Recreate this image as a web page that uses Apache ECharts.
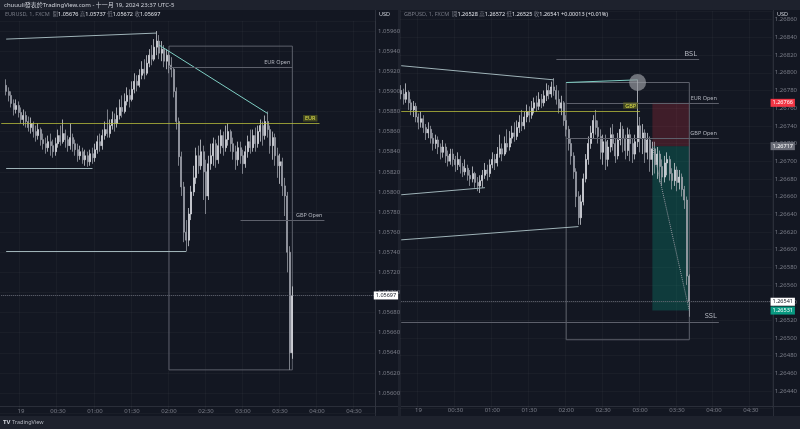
<!DOCTYPE html>
<html><head><meta charset="utf-8">
<script src="https://cdn.jsdelivr.net/npm/echarts@6/dist/echarts.min.js"></script>
<style>
html,body{margin:0;padding:0;background:#1e222d;width:800px;height:429px;overflow:hidden;}
.pane{position:absolute;background:#131722;}
.ln{position:absolute;background:#2a2e39;}
#chart{position:absolute;left:0;top:0;width:800px;height:429px;}
</style></head><body>
<div class="pane" style="left:0;top:10px;width:398px;height:406px"></div>
<div class="pane" style="left:401px;top:10px;width:399px;height:406px"></div>
<div class="ln" style="left:375px;top:10px;width:1px;height:406px"></div>
<div class="ln" style="left:0;top:406px;width:398px;height:1px"></div>
<div class="ln" style="left:773px;top:10px;width:1px;height:406px"></div>
<div class="ln" style="left:401px;top:406px;width:399px;height:1px"></div>
<div id="chart"></div>
<script>
// ---------- time ticks shown on the time axes ----------
const timeTicks = ['00:00','00:30','01:00','01:30','02:00','02:30','03:00','03:30','04:00','04:30'];

// ---------- EURUSD (left) 2-minute bars ----------
const leftStart = '23:48';
const leftFirstOpen = 1.05906;
const leftCloses = [1.05900,1.05896,1.05888,1.05882,1.05886,1.05879,1.05872,1.05876,1.05870,1.05864,
1.05868,1.05860,1.05856,1.05862,1.05852,1.05848,1.05844,1.05850,1.05846,1.05840,
1.05848,1.05856,1.05850,1.05858,1.05852,1.05846,1.05854,1.05848,1.05842,1.05836,
1.05840,1.05832,1.05836,1.05830,1.05838,1.05834,1.05842,1.05850,1.05846,1.05856,
1.05862,1.05858,1.05866,1.05872,1.05868,1.05876,1.05884,1.05880,1.05890,1.05896,
1.05892,1.05902,1.05910,1.05906,1.05916,1.05922,1.05918,1.05928,1.05936,1.05932,
1.05944,1.05950,1.05938,1.05942,1.05930,1.05936,1.05926,1.05922,1.05900,1.05870,
1.05835,1.05805,1.05760,1.05752,1.05778,1.05800,1.05814,1.05836,1.05826,1.05840,
1.05820,1.05796,1.05828,1.05836,1.05848,1.05832,1.05846,1.05856,1.05844,1.05852,
1.05860,1.05848,1.05840,1.05832,1.05844,1.05836,1.05828,1.05840,1.05850,1.05844,
1.05856,1.05848,1.05860,1.05866,1.05856,1.05870,1.05862,1.05846,1.05854,1.05836,
1.05826,1.05830,1.05806,1.05796,1.05740,1.05640,1.05697];
const leftHighs = [1.05912,1.05904,1.05900,1.05892,1.05892,1.05890,1.05884,1.05882,1.05880,1.05875,
1.05874,1.05870,1.05866,1.05868,1.05864,1.05858,1.05854,1.05856,1.05858,1.05852,
1.05854,1.05862,1.05866,1.05872,1.05862,1.05856,1.05868,1.05858,1.05852,1.05848,
1.05846,1.05844,1.05842,1.05840,1.05842,1.05844,1.05848,1.05856,1.05858,1.05862,
1.05870,1.05882,1.05872,1.05880,1.05878,1.05884,1.05892,1.05896,1.05898,1.05904,
1.05902,1.05910,1.05918,1.05916,1.05922,1.05930,1.05932,1.05936,1.05942,1.05946,
1.05952,1.05960,1.05956,1.05950,1.05946,1.05942,1.05940,1.05934,1.05924,1.05904,
1.05874,1.05840,1.05810,1.05772,1.05784,1.05806,1.05826,1.05844,1.05846,1.05852,
1.05846,1.05832,1.05836,1.05848,1.05854,1.05852,1.05856,1.05862,1.05860,1.05866,
1.05868,1.05862,1.05854,1.05846,1.05850,1.05850,1.05842,1.05846,1.05856,1.05862,
1.05862,1.05864,1.05866,1.05872,1.05870,1.05876,1.05880,1.05866,1.05860,1.05858,
1.05844,1.05838,1.05834,1.05814,1.05800,1.05746,1.05706];
const leftLows = [1.05896,1.05890,1.05884,1.05876,1.05878,1.05874,1.05868,1.05866,1.05864,1.05860,
1.05858,1.05854,1.05850,1.05852,1.05846,1.05842,1.05838,1.05840,1.05836,1.05834,
1.05836,1.05844,1.05846,1.05848,1.05844,1.05840,1.05842,1.05840,1.05836,1.05830,
1.05832,1.05828,1.05826,1.05825,1.05826,1.05828,1.05830,1.05838,1.05840,1.05842,
1.05852,1.05854,1.05854,1.05862,1.05860,1.05864,1.05872,1.05874,1.05878,1.05886,
1.05884,1.05890,1.05898,1.05900,1.05904,1.05912,1.05912,1.05916,1.05924,1.05926,
1.05930,1.05936,1.05932,1.05930,1.05924,1.05922,1.05918,1.05914,1.05894,1.05862,
1.05826,1.05796,1.05750,1.05741,1.05746,1.05772,1.05796,1.05808,1.05818,1.05822,
1.05792,1.05778,1.05792,1.05822,1.05826,1.05824,1.05828,1.05838,1.05836,1.05840,
1.05846,1.05840,1.05832,1.05822,1.05826,1.05828,1.05818,1.05824,1.05834,1.05838,
1.05840,1.05840,1.05844,1.05850,1.05846,1.05852,1.05854,1.05838,1.05832,1.05826,
1.05814,1.05808,1.05796,1.05776,1.05720,1.05623,1.05634];

// ---------- GBPUSD (right) 2-minute bars ----------
const rightStart = '23:46';
const rightFirstOpen = 1.26780;
const rightCloses = [1.26776,1.26770,1.26778,1.26766,1.26758,1.26762,1.26750,1.26744,1.26748,1.26738,
1.26732,1.26736,1.26726,1.26720,1.26724,1.26716,1.26710,1.26716,1.26706,1.26700,
1.26708,1.26702,1.26696,1.26702,1.26694,1.26688,1.26692,1.26684,1.26680,1.26686,
1.26676,1.26672,1.26678,1.26684,1.26690,1.26686,1.26696,1.26702,1.26698,1.26708,
1.26714,1.26708,1.26720,1.26716,1.26726,1.26732,1.26728,1.26738,1.26744,1.26740,
1.26750,1.26756,1.26752,1.26760,1.26766,1.26762,1.26770,1.26766,1.26774,1.26780,
1.26776,1.26784,1.26780,1.26770,1.26760,1.26766,1.26746,1.26736,1.26720,1.26706,
1.26688,1.26660,1.26636,1.26654,1.26680,1.26702,1.26720,1.26732,1.26746,1.26738,
1.26728,1.26710,1.26722,1.26702,1.26716,1.26730,1.26720,1.26706,1.26724,1.26736,
1.26726,1.26712,1.26730,1.26720,1.26708,1.26722,1.26740,1.26726,1.26732,1.26710,
1.26724,1.26702,1.26714,1.26696,1.26708,1.26694,1.26682,1.26698,1.26702,1.26686,
1.26678,1.26690,1.26676,1.26682,1.26668,1.26656,1.26570,1.26541];
const rightHighs = [1.26786,1.26782,1.26788,1.26780,1.26770,1.26768,1.26766,1.26754,1.26756,1.26752,
1.26742,1.26744,1.26740,1.26732,1.26730,1.26728,1.26720,1.26724,1.26720,1.26712,
1.26714,1.26714,1.26706,1.26710,1.26706,1.26698,1.26702,1.26696,1.26690,1.26694,
1.26688,1.26682,1.26684,1.26690,1.26698,1.26696,1.26702,1.26710,1.26708,1.26716,
1.26730,1.26720,1.26728,1.26736,1.26734,1.26740,1.26744,1.26746,1.26752,1.26758,
1.26756,1.26764,1.26762,1.26768,1.26772,1.26774,1.26778,1.26776,1.26780,1.26788,
1.26786,1.26790,1.26794,1.26786,1.26780,1.26774,1.26768,1.26752,1.26740,1.26726,
1.26710,1.26692,1.26666,1.26662,1.26686,1.26708,1.26728,1.26740,1.26752,1.26758,
1.26746,1.26736,1.26730,1.26730,1.26724,1.26738,1.26742,1.26726,1.26732,1.26744,
1.26740,1.26730,1.26738,1.26736,1.26726,1.26730,1.26792,1.26750,1.26742,1.26736,
1.26732,1.26728,1.26722,1.26722,1.26716,1.26712,1.26702,1.26706,1.26710,1.26706,
1.26692,1.26698,1.26694,1.26690,1.26686,1.26672,1.26660,1.26572];
const rightLows = [1.26770,1.26764,1.26766,1.26758,1.26752,1.26750,1.26744,1.26736,1.26738,1.26732,
1.26724,1.26726,1.26720,1.26712,1.26714,1.26708,1.26702,1.26704,1.26698,1.26694,
1.26696,1.26694,1.26688,1.26690,1.26686,1.26682,1.26684,1.26678,1.26672,1.26676,
1.26670,1.26666,1.26664,1.26670,1.26680,1.26678,1.26682,1.26692,1.26690,1.26694,
1.26704,1.26700,1.26706,1.26710,1.26712,1.26720,1.26722,1.26724,1.26732,1.26734,
1.26736,1.26744,1.26744,1.26748,1.26754,1.26756,1.26758,1.26760,1.26762,1.26768,
1.26770,1.26772,1.26774,1.26764,1.26754,1.26752,1.26740,1.26728,1.26712,1.26696,
1.26680,1.26648,1.26628,1.26628,1.26650,1.26676,1.26696,1.26714,1.26726,1.26730,
1.26720,1.26702,1.26696,1.26690,1.26694,1.26710,1.26712,1.26698,1.26702,1.26718,
1.26710,1.26702,1.26706,1.26700,1.26698,1.26702,1.26716,1.26710,1.26708,1.26698,
1.26702,1.26688,1.26684,1.26686,1.26680,1.26676,1.26672,1.26676,1.26684,1.26678,
1.26668,1.26672,1.26666,1.26668,1.26660,1.26646,1.26560,1.26524];

// ---------- helpers ----------
function makeTimes(startMin, count) {
  const out = [];
  for (let i = 0; i < count; i++) {
    const m = ((startMin + 2 * i) % 1440 + 1440) % 1440;
    out.push(String(Math.floor(m / 60)).padStart(2, '0') + ':' + String(m % 60).padStart(2, '0'));
  }
  return out;
}
const leftCats = makeTimes(-16, 152);
const rightCats = makeTimes(-14, 151);

function buildBars(cats, start, firstOpen, closes, highs, lows) {
  const s = cats.indexOf(start);
  return closes.map((c, k) => [cats[s + k], k === 0 ? firstOpen : closes[k - 1], c, lows[k], highs[k]]);
}
const leftBars = buildBars(leftCats, leftStart, leftFirstOpen, leftCloses, leftHighs, leftLows);
const rightBars = buildBars(rightCats, rightStart, rightFirstOpen, rightCloses, rightHighs, rightLows);

const FONT = '"Noto Sans", "Noto Sans CJK TC", sans-serif';
const GRAY = '#5d606b';
const TXT = '#b2b5be';
const TEAL = '#7fcfc4';
const PALE = '#9fb3b8';
const YEL_LINE = 'rgba(190,195,60,0.75)';
const YEL_TXT = '#dfe04e';

function seg(t1, v1, t2, v2, color, extra) {
  const a = Object.assign({ coord: [t1, v1], lineStyle: { color: color, width: 1, type: 'solid' }, label: { show: false } }, extra || {});
  return [a, { coord: [t2, v2] }];
}
function lbl(text, color, size, bg) {
  const o = { show: true, formatter: text, position: 'insideEndTop', color: color, fontSize: size || 5.5, distance: 2, fontFamily: FONT };
  if (bg) { o.backgroundColor = bg; o.padding = [1, 2, 0, 2]; }
  return o;
}
function priceTag(cats, v, text, bg, fg, lineColor) {
  return [{
    coord: [cats[0], v],
    lineStyle: { color: lineColor || 'rgba(0,0,0,0)', type: 'dotted', width: 1 },
    label: { show: true, position: 'end', formatter: text, backgroundColor: bg, color: fg, fontSize: 5.5, padding: [1.5, 2, 1, 2], distance: 0, fontFamily: FONT }
  }, { coord: [cats[cats.length - 1], v] }];
}

const catInterval = (idx, val) => timeTicks.includes(val);

function xAxisCfg(gi, cats, offset) {
  return {
    type: 'category', gridIndex: gi, data: cats, boundaryGap: true, offset: offset,
    axisLine: { show: false }, axisTick: { show: false },
    axisLabel: { interval: catInterval, formatter: v => v === '00:00' ? '19' : v, color: '#787b86', fontSize: 6, margin: 3, fontFamily: FONT },
    splitLine: { show: true, interval: catInterval, lineStyle: { color: 'rgba(255,255,255,0.03)' } }
  };
}
function yAxisCfg(gi, min, max) {
  return {
    type: 'value', gridIndex: gi, position: 'right', min: min, max: max, interval: 0.0002,
    axisLine: { show: false }, axisTick: { show: false },
    axisLabel: { formatter: v => v.toFixed(5), color: '#787b86', fontSize: 6, margin: 3, showMinLabel: false, showMaxLabel: false, fontFamily: FONT },
    splitLine: { lineStyle: { color: 'rgba(255,255,255,0.03)' } }
  };
}

const candleStyle = { color: '#e2e4ea', color0: '#8d909a', borderColor: '#e2e4ea', borderColor0: '#a9acb5', borderWidth: 0.7 };

const option = {
  animation: false,
  backgroundColor: 'transparent',
  textStyle: { fontFamily: FONT },
  grid: [
    { left: 0, top: 21.0, width: 375, height: 392.1 },
    { left: 400, top: 10.9, width: 373, height: 397.8 }
  ],
  xAxis: [xAxisCfg(0, leftCats, -8), xAxisCfg(1, rightCats, -4)],
  yAxis: [yAxisCfg(0, 1.0558, 1.0597), yAxisCfg(1, 1.2642, 1.2687)],
  series: [
    {
      type: 'candlestick', xAxisIndex: 0, yAxisIndex: 0, data: leftBars, clip: false,
      encode: { x: 0, y: [1, 2, 3, 4] }, barWidth: 1.5, itemStyle: candleStyle,
      markArea: {
        silent: true,
        data: [
          [{ coord: ['02:00', 1.05945], itemStyle: { color: 'rgba(0,0,0,0)', borderColor: GRAY, borderWidth: 1 } }, { coord: ['03:40', 1.05623] }]
        ]
      },
      markLine: {
        silent: true, symbol: ['none', 'none'], animation: false,
        data: [
          seg('23:48', 1.05952, '01:50', 1.05958, PALE),
          seg('23:48', 1.05824, '00:58', 1.05824, PALE),
          seg('23:48', 1.05741, '02:14', 1.05741, PALE),
          seg('01:52', 1.05946, '03:20', 1.05878, TEAL),
          seg('02:00', 1.05924, '03:40', 1.05924, GRAY, { label: lbl('EUR Open', TXT) }),
          seg('23:44', 1.05868, '04:02', 1.05868, YEL_LINE, { label: lbl('EUR', YEL_TXT, 5.5, 'rgba(110,115,30,0.55)') }),
          seg('02:58', 1.05772, '04:06', 1.05772, GRAY, { label: lbl('GBP Open', TXT) }),
          priceTag(leftCats, 1.05697, '1.05697', '#ffffff', '#131722', '#6a6d78')
        ]
      }
    },
    {
      type: 'candlestick', xAxisIndex: 1, yAxisIndex: 1, data: rightBars, clip: false,
      encode: { x: 0, y: [1, 2, 3, 4] }, barWidth: 1.5, itemStyle: candleStyle,
      markArea: {
        silent: true,
        data: [
          [{ coord: ['03:10', 1.26766], itemStyle: { color: 'rgba(242,54,69,0.2)' } }, { coord: ['03:40', 1.26717] }],
          [{ coord: ['03:10', 1.26717], itemStyle: { color: 'rgba(8,153,129,0.28)' } }, { coord: ['03:40', 1.26531] }],
          [{ coord: ['02:00', 1.26789], itemStyle: { color: 'rgba(0,0,0,0)', borderColor: GRAY, borderWidth: 1 } }, { coord: ['03:40', 1.26498] }]
        ]
      },
      markPoint: {
        silent: true,
        data: [{ coord: ['02:58', 1.26789], symbol: 'circle', symbolSize: 17, itemStyle: { color: 'rgba(150,152,158,0.7)' }, label: { show: false } }]
      },
      markLine: {
        silent: true, symbol: ['none', 'none'], animation: false,
        data: [
          seg('23:46', 1.26808, '01:50', 1.26792, PALE),
          seg('23:46', 1.26662, '00:54', 1.26670, PALE),
          seg('23:46', 1.26611, '02:10', 1.26626, PALE),
          seg('02:00', 1.26789, '02:58', 1.26792, TEAL),
          seg('01:52', 1.26815, '03:48', 1.26815, GRAY, { label: lbl('BSL', TXT, 7.5) }),
          seg('23:46', 1.26518, '04:04', 1.26518, GRAY, { label: lbl('SSL', TXT, 7.5) }),
          seg('23:46', 1.26757, '03:00', 1.26757, YEL_LINE, { label: lbl('GBP', YEL_TXT, 5.5, 'rgba(110,115,30,0.55)') }),
          seg('02:00', 1.26766, '04:04', 1.26766, GRAY, { label: lbl('EUR Open', TXT) }),
          seg('02:00', 1.26726, '04:04', 1.26726, GRAY, { label: lbl('GBP Open', TXT) }),
          seg('03:10', 1.26717, '03:40', 1.26531, '#9598a1', { lineStyle: { color: '#9598a1', width: 1, type: 'dotted' } }),
          priceTag(rightCats, 1.26766, '1.26766', '#f23645', '#ffffff'),
          priceTag(rightCats, 1.26717, '1.26717', '#6a6d78', '#ffffff'),
          priceTag(rightCats, 1.26541, '1.26541', '#ffffff', '#131722', '#6a6d78'),
          priceTag(rightCats, 1.26531, '1.26531', '#089981', '#ffffff')
        ]
      }
    }
  ],
  graphic: [
    { type: 'text', left: 4, top: 2, style: { text: 'chuuuli發表於TradingView.com - 十一月 19, 2024 23:37 UTC-5', fill: '#d1d4dc', font: '6px ' + FONT } },
    { type: 'text', left: 5, top: 12, style: { text: '{g|EURUSD, 1, FXCM  開}{w|1.05676} {g|高}{w|1.05737} {g|低}{w|1.05672} {g|收}{w|1.05697}', font: '5.5px ' + FONT,
        rich: { g: { fill: '#787b86', font: '5.5px ' + FONT }, w: { fill: '#e6e8ee', font: '5.5px ' + FONT } } } },
    { type: 'text', left: 404, top: 12, style: { text: '{g|GBPUSD, 1, FXCM  開}{w|1.26528} {g|高}{w|1.26572} {g|低}{w|1.26525} {g|收}{w|1.26541} {w|+0.00013 (+0.01%)}', font: '5.5px ' + FONT,
        rich: { g: { fill: '#787b86', font: '5.5px ' + FONT }, w: { fill: '#e6e8ee', font: '5.5px ' + FONT } } } },
    { type: 'text', left: 379, top: 12, style: { text: 'USD', fill: '#d1d4dc', font: '5.5px ' + FONT } },
    { type: 'text', left: 777, top: 12, style: { text: 'USD', fill: '#d1d4dc', font: '5.5px ' + FONT } },
    { type: 'text', left: 3, top: 419, style: { text: 'TV', fill: '#d1d4dc', font: 'bold 6px ' + FONT } },
    { type: 'text', left: 12, top: 419.5, style: { text: 'TradingView', fill: '#b2b5be', font: '5.5px ' + FONT } }
  ]
};

const chart = echarts.init(document.getElementById('chart'), null, { width: 800, height: 429, renderer: 'canvas' });
chart.setOption(option);
</script>
</body></html>
